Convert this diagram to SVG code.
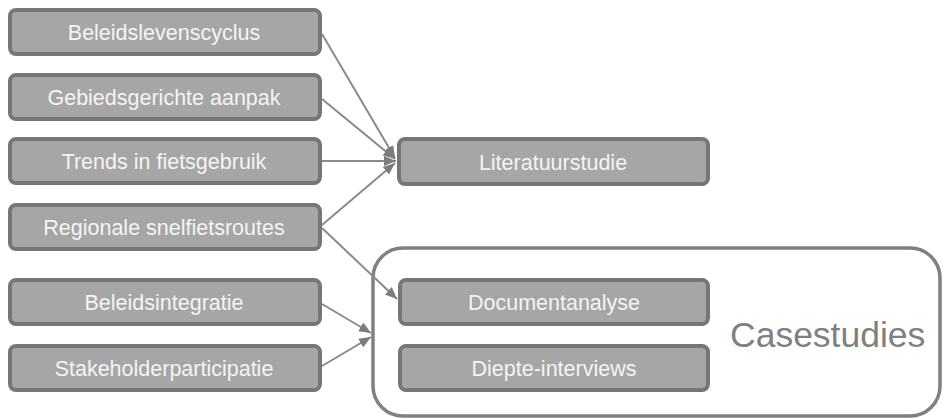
<svg xmlns="http://www.w3.org/2000/svg" width="944" height="419" viewBox="0 0 944 419">
  <style>
    .box { fill: #a6a6a6; stroke: #767676; stroke-width: 4; }
    .lbl { fill: #f4f4f4; font-family: "Liberation Sans", Arial, sans-serif; font-size: 21.5px; text-anchor: middle; }
    .edge { stroke: #8a8a8a; stroke-width: 2; fill: none; marker-end: url(#arrow); }
    .group { fill: #ffffff; stroke: #808080; stroke-width: 3.5; }
    .glbl { fill: #808080; font-family: "Liberation Sans", Arial, sans-serif; font-size: 35.5px; }
  </style>
  <defs>
    <marker id="arrow" markerUnits="userSpaceOnUse" markerWidth="13" markerHeight="13" viewBox="0 0 13 13" refX="12" refY="6.5" orient="auto">
      <path d="M0,1.5 L12,6.5 L0,11.5 Z" fill="#7c7c7c"/>
    </marker>
  </defs>
  <rect width="944" height="419" fill="#ffffff"/>

  <!-- case study container -->
  <g id="casestudies">
    <rect class="group" x="373" y="248" width="567" height="168" rx="30"/>
    <text class="glbl" x="730" y="347">Casestudies</text>
  </g>

  <!-- connectors -->
  <g id="connectors">
    <line class="edge" x1="322" y1="34" x2="395" y2="158"/>
    <line class="edge" x1="322" y1="99" x2="395" y2="159"/>
    <line class="edge" x1="322" y1="161" x2="396" y2="161"/>
    <line class="edge" x1="322" y1="225" x2="395" y2="163"/>
    <line class="edge" x1="322" y1="228" x2="397" y2="299"/>
    <line class="edge" x1="322" y1="304" x2="371" y2="333"/>
    <line class="edge" x1="322" y1="366" x2="371" y2="337"/>
  </g>

  <!-- source topics -->
  <g id="beleidslevenscyclus">
    <rect class="box" x="10" y="10" width="310" height="44" rx="6"/>
    <text class="lbl" x="164" y="40">Beleidslevenscyclus</text>
  </g>
  <g id="gebiedsgerichte-aanpak">
    <rect class="box" x="10" y="75" width="310" height="44" rx="6"/>
    <text class="lbl" x="164" y="105">Gebiedsgerichte aanpak</text>
  </g>
  <g id="trends-in-fietsgebruik">
    <rect class="box" x="10" y="139" width="310" height="44" rx="6"/>
    <text class="lbl" x="164" y="169">Trends in fietsgebruik</text>
  </g>
  <g id="regionale-snelfietsroutes">
    <rect class="box" x="10" y="205" width="310" height="44" rx="6"/>
    <text class="lbl" x="164" y="235">Regionale snelfietsroutes</text>
  </g>
  <g id="beleidsintegratie">
    <rect class="box" x="10" y="280" width="310" height="44" rx="6"/>
    <text class="lbl" x="164" y="310">Beleidsintegratie</text>
  </g>
  <g id="stakeholderparticipatie">
    <rect class="box" x="10" y="346" width="310" height="44" rx="6"/>
    <text class="lbl" x="164" y="376">Stakeholderparticipatie</text>
  </g>

  <!-- methods -->
  <g id="literatuurstudie">
    <rect class="box" x="399" y="139" width="309" height="45" rx="6"/>
    <text class="lbl" x="553" y="170">Literatuurstudie</text>
  </g>
  <g id="documentanalyse">
    <rect class="box" x="400" y="280" width="308" height="44" rx="6"/>
    <text class="lbl" x="554" y="310">Documentanalyse</text>
  </g>
  <g id="diepte-interviews">
    <rect class="box" x="400" y="346" width="308" height="44" rx="6"/>
    <text class="lbl" x="554" y="376">Diepte-interviews</text>
  </g>
</svg>
